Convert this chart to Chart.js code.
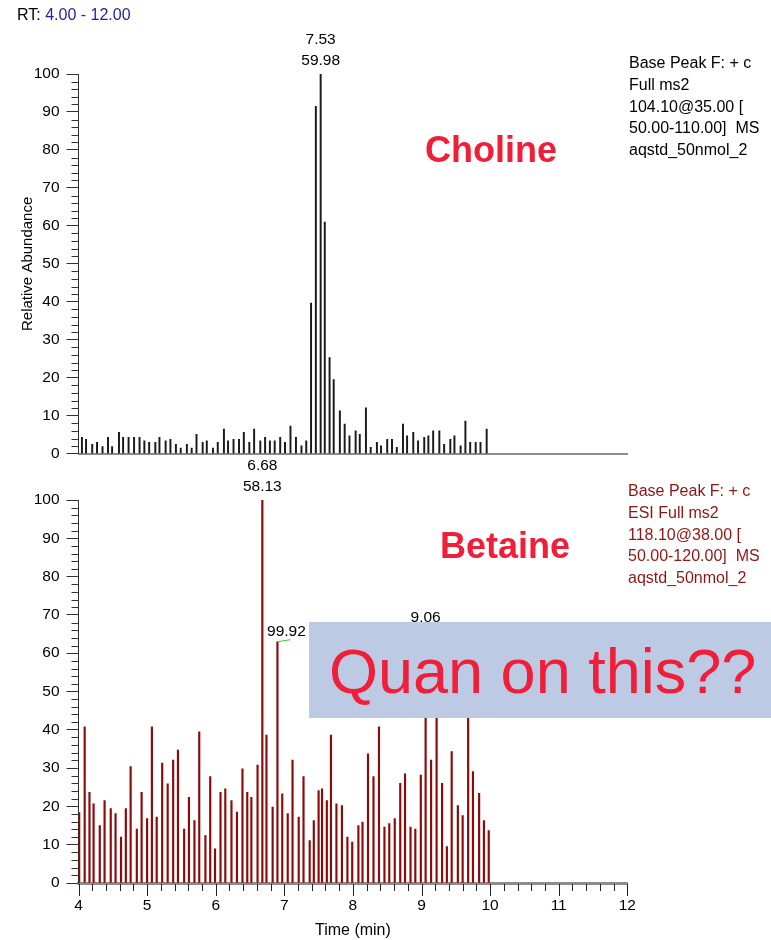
<!DOCTYPE html>
<html>
<head>
<meta charset="utf-8">
<script src="https://cdn.jsdelivr.net/npm/chart.js"></script>
<style>
  body { margin: 0; background: #fff; }
  #wrap { position: relative; width: 771px; height: 940px; overflow: hidden; font-family: "Liberation Sans", Arial, sans-serif; }
  canvas { position: absolute; left: 0; }
  .txt { position: absolute; white-space: pre; }
</style>
</head>
<body>
<div id="wrap">
  <canvas id="choline" width="771" height="470" style="top:0"></canvas>
  <canvas id="betaine" width="771" height="510" style="top:430px"></canvas>

  <div class="txt" style="left:17px;top:6px;font-size:16px;line-height:18px;color:#000">RT: <span style="color:#1f1fa3">4.00 - 12.00</span></div>

  <div class="txt" style="left:629px;top:52px;font-size:16px;line-height:21.8px;color:#000">Base Peak F: + c
Full ms2
104.10@35.00 [
50.00-110.00]  MS
aqstd_50nmol_2</div>

  <div class="txt" style="left:628px;top:480px;font-size:16px;line-height:21.8px;color:#8e1616">Base Peak F: + c
ESI Full ms2
118.10@38.00 [
50.00-120.00]  MS
aqstd_50nmol_2</div>

  <div class="txt" style="left:425px;top:132px;font-size:36px;line-height:36px;font-weight:bold;color:#f01e38">Choline</div>
  <div class="txt" style="left:440px;top:528px;font-size:36px;line-height:36px;font-weight:bold;color:#f01e38">Betaine</div>

  <div style="position:absolute;left:309px;top:622px;width:462px;height:96px;background:#bdcae3">
    <div class="txt" style="left:20px;top:18px;font-size:63px;line-height:63px;color:#f01e38">Quan on this??</div>
  </div>
</div>

<script>
// Choline trace (upper panel)
var cholineTimes = [4.05,4.11,4.20,4.27,4.35,4.43,4.49,4.59,4.65,4.73,
  4.81,4.89,4.96,5.03,5.12,5.18,5.27,5.34,5.42,5.49,
  5.58,5.65,5.72,5.81,5.87,5.96,6.03,6.12,6.18,6.26,
  6.34,6.41,6.49,6.56,6.65,6.72,6.79,6.86,6.94,7.01,
  7.09,7.17,7.25,7.32,7.39,7.46,7.53,7.59,7.66,7.72,
  7.81,7.88,7.95,8.04,8.10,8.19,8.26,8.35,8.41,8.50,
  8.57,8.64,8.73,8.79,8.88,8.95,9.04,9.10,9.17,9.26,
  9.33,9.42,9.48,9.57,9.64,9.71,9.79,9.86,9.95];
var cholineValues = [4.3,3.8,2.5,3.0,1.9,4.3,1.9,5.6,4.3,4.3,
  4.3,4.3,3.4,3.0,3.0,4.3,3.4,3.8,2.5,1.5,
  2.5,1.5,5.1,3.0,3.4,1.5,3.0,6.5,3.4,3.8,
  3.8,5.6,3.0,6.5,3.4,4.3,3.4,3.4,4.3,3.0,
  7.3,4.3,2.1,3.4,39.7,91.5,100,61.0,25.3,19.5,
  11.3,7.8,4.7,6.0,5.1,12.1,1.7,3.0,2.1,3.8,
  3.8,1.7,7.8,4.7,5.6,3.4,4.3,4.7,6.0,6.0,
  2.5,3.8,4.7,2.1,8.6,3.0,3.0,3.0,6.5];

// Betaine trace (lower panel)
var betaineTimes = [4.01,4.09,4.16,4.22,4.31,4.38,4.47,4.54,4.62,4.69,
  4.76,4.85,4.92,5.00,5.07,5.14,5.22,5.30,5.38,5.45,
  5.54,5.61,5.69,5.76,5.85,5.92,5.99,6.07,6.14,6.23,
  6.31,6.39,6.46,6.52,6.61,6.68,6.74,6.83,6.90,6.97,
  7.05,7.12,7.21,7.28,7.37,7.43,7.50,7.55,7.62,7.68,
  7.76,7.84,7.92,7.99,8.08,8.14,8.22,8.30,8.38,8.46,
  8.53,8.61,8.69,8.76,8.84,8.91,8.99,9.06,9.14,9.22,
  9.30,9.37,9.44,9.53,9.60,9.68,9.75,9.84,9.91,9.98];
var betaineValues = [18.4,40.8,23.7,20.7,15.0,21.5,19.4,18.1,12.0,19.4,
  30.4,14.1,23.7,16.8,40.8,17.2,31.3,25.9,32.1,34.7,
  14.1,22.4,16.3,39.5,12.4,27.8,8.9,23.7,24.6,21.5,
  18.5,29.8,23.7,22.4,30.8,100,38.6,19.8,63.0,23.3,
  18.1,32.1,17.2,27.8,11.1,16.3,24.1,24.6,21.5,38.6,
  20.7,20.2,12.0,10.7,15.0,15.9,33.7,27.8,40.8,14.6,
  15.5,16.8,26.0,28.5,14.6,14.1,28.2,60.4,32.1,52,
  26.0,9.5,34.3,20.2,17.6,47,29.1,23.4,16.3,13.7];

// peak annotations: index into the trace, RT line, m/z line
var cholinePeakIdx = [46];
var cholinePeakText = [["7.53", "59.98"]];
var betainePeakIdx = [35, 67, 38];
var betainePeakText = [["6.68", "58.13"], ["9.06", ""], ["", "99.92"]];

var yTicks = [0, 10, 20, 30, 40, 50, 60, 70, 80, 90, 100];
var xTicks = [4, 5, 6, 7, 8, 9, 10, 11, 12];

Chart.defaults.font.family = '"Liberation Sans", Arial, sans-serif';
Chart.defaults.color = '#000';

function toPoints(xs, ys) {
  return xs.map(function (x, i) { return {x: x, y: ys[i]}; });
}

// minor ticks every 2 % on y; all x tick marks (0.2 min, long at whole minutes)
var axisTicks = {
  id: 'axisTicks',
  afterDraw: function (chart, args, opts) {
    var ctx = chart.ctx, area = chart.chartArea;
    var ys = chart.scales.y, xs = chart.scales.x;
    ctx.save();
    ctx.strokeStyle = '#333';
    ctx.lineWidth = 1;
    for (var v = 0; v <= 100; v += 2) {
      if (v % 10 === 0) continue;
      var py = Math.round(ys.getPixelForValue(v)) + 0.5;
      ctx.beginPath();
      ctx.moveTo(area.left - 7, py);
      ctx.lineTo(area.left, py);
      ctx.stroke();
    }
    if (opts.xTicks) {
      ctx.strokeStyle = '#222';
      for (var k = 0; k <= 40; k++) {
        var len = (k % 5 === 0) ? 12 : 7;
        var px = Math.round(xs.getPixelForValue(4 + k * 0.2)) + 0.5;
        ctx.beginPath();
        ctx.moveTo(px, area.bottom + 1);
        ctx.lineTo(px, area.bottom + 1 + len);
        ctx.stroke();
      }
    }
    ctx.restore();
  }
};

var peakLabels = {
  id: 'peakLabels',
  afterDatasetsDraw: function (chart, args, opts) {
    var ctx = chart.ctx;
    var bars = chart.getDatasetMeta(0).data;
    ctx.save();
    ctx.font = '15.5px "Liberation Sans", Arial, sans-serif';
    ctx.fillStyle = '#000';
    ctx.textAlign = 'center';
    ctx.textBaseline = 'middle';
    opts.idx.forEach(function (idx, n) {
      var bar = bars[idx];
      var lines = opts.text[n];
      if (lines[0]) ctx.fillText(lines[0], bar.x, bar.y - 34);
      if (lines[1] && lines[0]) ctx.fillText(lines[1], bar.x, bar.y - 13);
      if (lines[1] && !lines[0]) {
        ctx.fillText(lines[1], bar.x + 9, bar.y - 10);
        ctx.strokeStyle = '#3cc43c';
        ctx.lineWidth = 1;
        ctx.beginPath();
        ctx.moveTo(bar.x, bar.y);
        ctx.lineTo(bar.x + 13, bar.y - 2);
        ctx.stroke();
      }
    });
    ctx.restore();
  }
};

function yScale(withTitle) {
  return {
    min: 0, max: 100,
    afterBuildTicks: function (s) { s.ticks = yTicks.map(function (v) { return {value: v}; }); },
    ticks: {padding: 7, font: {size: 15.5}, color: '#000'},
    grid: {drawOnChartArea: false, tickLength: 12, tickColor: '#333'},
    border: {color: '#333', width: 1},
    title: {display: withTitle, text: 'Relative Abundance', color: '#000', font: {size: 15}, padding: {top: 19, bottom: 0}},
    afterFit: function (s) { s.width = 78.5; }
  };
}

new Chart('choline', {
  type: 'bar',
  data: {
    datasets: [{
      data: toPoints(cholineTimes, cholineValues),
      backgroundColor: '#1a1a1a',
      barThickness: 1.3
    }]
  },
  options: {
    responsive: false,
    animation: false,
    layout: {padding: {top: 74, right: 143.7, left: 0, bottom: 0}},
    plugins: {
      legend: {display: false},
      tooltip: {enabled: false},
      axisTicks: {xTicks: false},
      peakLabels: {idx: cholinePeakIdx, text: cholinePeakText}
    },
    scales: {
      x: {
        type: 'linear', min: 4, max: 12, offset: false,
        grid: {display: false},
        ticks: {display: false},
        border: {color: '#8c8c8c', width: 2},
        afterFit: function (s) { s.height = 14; }
      },
      y: yScale(true)
    }
  },
  plugins: [axisTicks, peakLabels]
});

new Chart('betaine', {
  type: 'bar',
  data: {
    datasets: [{
      data: toPoints(betaineTimes, betaineValues),
      backgroundColor: '#8b0a0a',
      barThickness: 1.5
    }]
  },
  options: {
    responsive: false,
    animation: false,
    layout: {padding: {top: 70, right: 143.7, left: 0, bottom: 0}},
    plugins: {
      legend: {display: false},
      tooltip: {enabled: false},
      axisTicks: {xTicks: true},
      peakLabels: {idx: betainePeakIdx, text: betainePeakText}
    },
    scales: {
      x: {
        type: 'linear', min: 4, max: 12, offset: false,
        afterBuildTicks: function (s) { s.ticks = xTicks.map(function (v) { return {value: v}; }); },
        ticks: {padding: 1, font: {size: 15.5}, color: '#000', maxRotation: 0, autoSkip: false},
        grid: {drawOnChartArea: false, tickLength: 12, tickColor: 'rgba(0,0,0,0)'},
        border: {color: '#8c8c8c', width: 3},
        title: {display: true, text: 'Time (min)', color: '#000', font: {size: 16}, padding: {top: 0, bottom: 0}},
        afterFit: function (s) { s.height = 57; }
      },
      y: yScale(false)
    }
  },
  plugins: [axisTicks, peakLabels]
});
</script>
</body>
</html>
